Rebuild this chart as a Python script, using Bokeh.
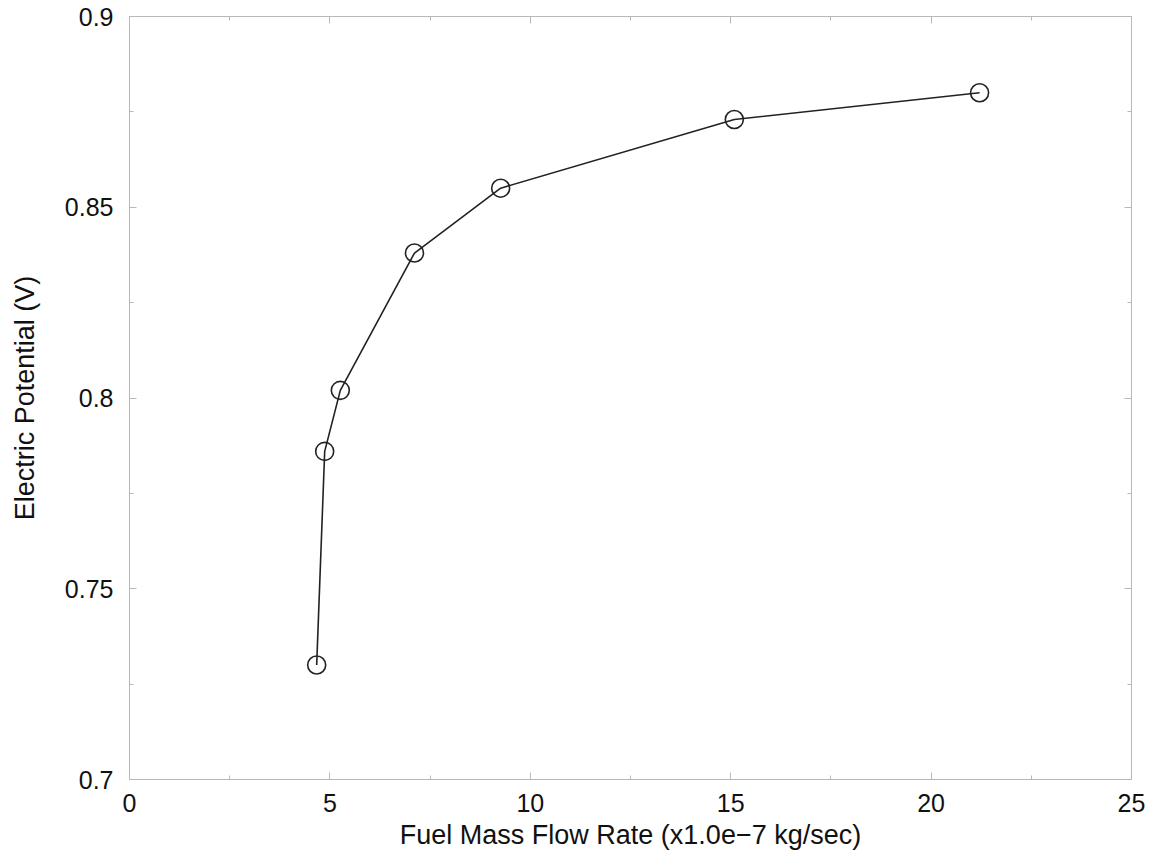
from bokeh.plotting import figure
from bokeh.models import FixedTicker, LinearAxis, CustomJSTickFormatter, Range1d
from bokeh.embed import file_html
from bokeh.resources import INLINE

# Data
flow_rate = [4.67, 4.87, 5.26, 7.11, 9.26, 15.09, 21.21]
potential = [0.730, 0.786, 0.802, 0.838, 0.855, 0.873, 0.880]

x_ticks = [0, 5, 10, 15, 20, 25]
x_minor = [2.5, 7.5, 12.5, 17.5, 22.5]
y_ticks = [0.7, 0.75, 0.8, 0.85, 0.9]
y_minor = [0.725, 0.775, 0.825, 0.875]

FONT = "Liberation Sans"
AXIS_GRAY = "#b8b8b8"

p = figure(width=1148, height=856, output_backend="svg", toolbar_location=None,
           x_range=Range1d(0, 25), y_range=Range1d(0.7, 0.9),
           min_border_left=129, min_border_right=17, min_border_top=16, min_border_bottom=77)

p.line(flow_rate, potential, line_color="#222222", line_width=1.6)
p.scatter(flow_rate, potential, marker="circle", size=18, fill_color=None,
          line_color="#222222", line_width=1.6)

p.xgrid.visible = False
p.ygrid.visible = False
p.outline_line_color = AXIS_GRAY
p.outline_line_width = 1

yfmt = CustomJSTickFormatter(code="return String(Math.round(tick*1000)/1000);")
blank = CustomJSTickFormatter(code="return '';")

def style(ax):
    ax.axis_line_color = AXIS_GRAY
    ax.major_tick_line_color = AXIS_GRAY
    ax.minor_tick_line_color = AXIS_GRAY
    ax.major_tick_in = 7
    ax.major_tick_out = 0
    ax.minor_tick_in = 4
    ax.minor_tick_out = 0
    ax.major_label_text_font = FONT
    ax.major_label_text_font_size = "25px"
    ax.major_label_text_color = "#111111"
    ax.axis_label_text_font = FONT
    ax.axis_label_text_font_size = "27px"
    ax.axis_label_text_font_style = "normal"
    ax.axis_label_text_color = "#111111"

xa = p.xaxis[0]
xa.ticker = FixedTicker(ticks=x_ticks, minor_ticks=x_minor)
style(xa)
xa.axis_label = "Fuel Mass Flow Rate (x1.0e\u22127 kg/sec)"
xa.major_label_standoff = 14
xa.axis_label_standoff = 5

ya = p.yaxis[0]
ya.ticker = FixedTicker(ticks=y_ticks, minor_ticks=y_minor)
ya.formatter = yfmt
style(ya)
ya.axis_label = "Electric Potential (V)"
ya.major_label_standoff = 16
ya.axis_label_standoff = 22

top = LinearAxis(ticker=FixedTicker(ticks=x_ticks, minor_ticks=x_minor), formatter=blank)
style(top)
top.major_label_standoff = 0
p.add_layout(top, "above")
right = LinearAxis(ticker=FixedTicker(ticks=y_ticks, minor_ticks=y_minor), formatter=blank)
style(right)
right.major_label_standoff = 0
p.add_layout(right, "right")

open("out.html", "w").write(file_html(p, INLINE))
